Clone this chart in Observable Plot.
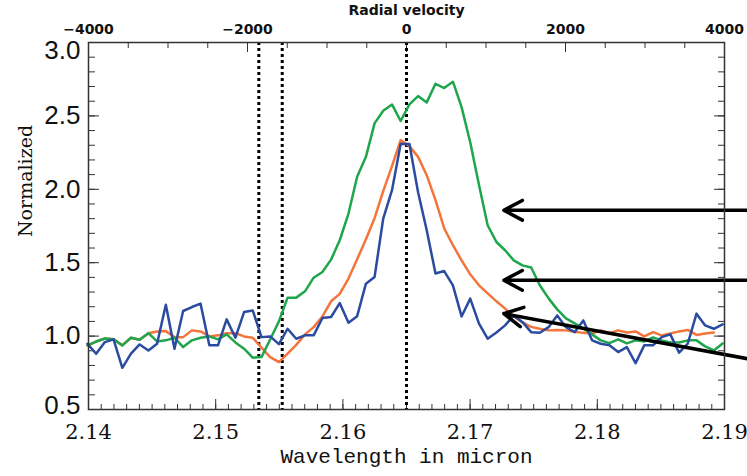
<!DOCTYPE html>
<html>
<head>
<meta charset="utf-8">
<script src="https://cdn.jsdelivr.net/npm/d3@7"></script>
<script src="https://cdn.jsdelivr.net/npm/@observablehq/plot@0.6"></script>
<style>
  html, body { margin: 0; padding: 0; background: #fff; }
</style>
</head>
<body>
<div id="chart"></div>
<script>
// Spectral sampling (micron)
const wavelength = [
  2.13992, 2.14060, 2.14129, 2.14197, 2.14266, 2.14334, 2.14402, 2.14471, 2.14539, 2.14608,
  2.14676, 2.14744, 2.14813, 2.14881, 2.14950, 2.15018, 2.15086, 2.15155, 2.15223, 2.15291,
  2.15360, 2.15428, 2.15497, 2.15565, 2.15633, 2.15702, 2.15770, 2.15839, 2.15907, 2.15975,
  2.16044, 2.16112, 2.16181, 2.16249, 2.16317, 2.16386, 2.16454, 2.16523, 2.16591, 2.16659,
  2.16728, 2.16796, 2.16865, 2.16933, 2.17001, 2.17070, 2.17138, 2.17207, 2.17275, 2.17343,
  2.17412, 2.17480, 2.17548, 2.17617, 2.17685, 2.17754, 2.17822, 2.17890, 2.17959, 2.18027,
  2.18096, 2.18164, 2.18232, 2.18301, 2.18369, 2.18438, 2.18506, 2.18574, 2.18643, 2.18711,
  2.18780, 2.18848, 2.18916, 2.18985
];

// Normalized flux of the three spectra
const fluxGreen = [
  0.937, 0.963, 0.984, 0.978, 0.937, 0.989, 0.975, 1.020, 0.964, 0.971,
  0.989, 0.925, 0.971, 0.989, 0.998, 0.978, 1.012, 0.957, 0.914, 0.853,
  0.857, 0.977, 1.100, 1.262, 1.262, 1.305, 1.398, 1.437, 1.521, 1.653,
  1.835, 2.085, 2.221, 2.449, 2.535, 2.578, 2.465, 2.578, 2.635, 2.592,
  2.719, 2.690, 2.733, 2.560, 2.321, 2.030, 1.755, 1.641, 1.585, 1.516,
  1.482, 1.467, 1.346, 1.257, 1.182, 1.121, 1.087, 1.052, 1.012, 0.971,
  0.952, 0.978, 0.950, 0.971, 0.964, 0.991, 0.971, 0.957, 0.957, 0.971,
  0.971, 0.930, 0.902, 0.950
];

const fluxOrange = [
  0.937, 0.963, 0.984, 0.978, 0.937, 0.989, 0.975, 1.020, 1.032, 1.034,
  0.993, 0.993, 1.039, 1.032, 0.998, 1.005, 1.020, 1.020, 0.998, 0.989,
  0.921, 0.857, 0.823, 0.880, 0.940, 1.012, 1.061, 1.134, 1.237, 1.288,
  1.392, 1.523, 1.660, 1.803, 1.987, 2.158, 2.335, 2.294, 2.221, 2.096,
  1.926, 1.735, 1.619, 1.516, 1.421, 1.346, 1.291, 1.237, 1.187, 1.134,
  1.093, 1.063, 1.050, 1.039, 1.042, 1.039, 1.029, 1.022, 1.018, 1.039,
  1.020, 1.039, 1.025, 1.032, 0.998, 1.027, 1.005, 1.018, 1.032, 1.042,
  1.008, 1.018, 1.025
];

const fluxBlue = [
  0.948, 0.880, 0.959, 0.978, 0.784, 0.880, 0.943, 0.902, 0.948, 1.214,
  0.914, 1.171, 1.198, 1.221, 0.937, 0.937, 1.114, 0.989, 1.164, 1.175,
  0.993, 0.998, 0.945, 1.050, 0.982, 1.005, 1.005, 1.123, 1.130, 1.225,
  1.091, 1.136, 1.357, 1.402, 1.801, 1.994, 2.308, 2.308, 1.980, 1.721,
  1.426, 1.443, 1.346, 1.134, 1.255, 1.085, 0.982, 1.025, 1.073, 1.141,
  1.095, 1.027, 1.023, 1.061, 1.141, 1.061, 1.027, 1.107, 0.971, 0.948,
  0.937, 0.891, 0.925, 0.816, 0.937, 0.937, 0.993, 1.012, 0.887, 0.948,
  1.153, 1.073, 1.050, 1.080
];

// Line positions marked with dotted verticals (micron)
const lineMarkers = [2.15339, 2.15523, 2.16500];

// Annotation arrows (wavelength, normalized flux)
const arrowTailX = [2.1918, 2.1918, 2.1918];
const arrowTailY = [1.857, 1.380, 0.846];
const arrowHeadX = [2.17265, 2.17265, 2.17265];
const arrowHeadY = [1.857, 1.380, 1.153];

// Axis ticks
const xMajorTicks = [2.14, 2.15, 2.16, 2.17, 2.18, 2.19];
const xMinorTicks = d3.range(0, 51).map(i => 2.14 + i * 0.001);
const yMajorTicks = [0.5, 1.0, 1.5, 2.0, 2.5, 3.0];
const yMinorTicks = d3.range(0, 26).map(i => 0.5 + i * 0.1);
const velocityMajor = [-4000, -2000, 0, 2000, 4000];
const velocityMinor = d3.range(-4000, 4001, 500);

// Radial velocity axis spans the same frame: -4000..4000 km/s across 2.14..2.19 micron
const velToWave = v => 2.165 + (v / 4000) * 0.025;
const waveToVel = w => Math.round((w - 2.165) / 0.025 * 4000);

const toRows = (ys) => ys.map((f, i) => ({w: wavelength[i], f}));
const arrows = arrowTailX.map((_, i) => ({x1: arrowTailX[i], y1: arrowTailY[i], x2: arrowHeadX[i], y2: arrowHeadY[i]}));

const minus = s => String(s).replace("-", "\u2212");

// Left tick labels: the end labels sit just inside the frame corners
const yLabelStyle = {anchor: "left", tickSize: 0, tickPadding: 8, tickFormat: d3.format(".1f"),
  fontSize: 26, fontFamily: "Liberation Sans", fill: "#111", label: null};

const chart = Plot.plot({
  width: 747,
  height: 476,
  marginLeft: 88,
  marginRight: 23,
  marginTop: 42,
  marginBottom: 67,
  style: {background: "#fff", overflow: "visible"},
  x: {domain: [2.14, 2.19], axis: null},
  y: {domain: [0.5, 3.0], axis: null},
  marks: [
    // minor & major ticks, pointing into the frame
    Plot.axisX(xMinorTicks, {anchor: "bottom", tickSize: -5, tickFormat: () => "", label: null, stroke: "#333"}),
    Plot.axisX(xMajorTicks, {anchor: "bottom", tickSize: -10, tickFormat: () => "", label: null, stroke: "#333"}),
    Plot.axisX(velocityMinor.map(velToWave), {anchor: "top", tickSize: -5, tickFormat: () => "", label: null, stroke: "#333"}),
    Plot.axisX(velocityMajor.map(velToWave), {anchor: "top", tickSize: -9, tickFormat: () => "", label: null, stroke: "#333"}),
    Plot.axisY(yMinorTicks, {anchor: "left", tickSize: -7, tickFormat: () => "", label: null, stroke: "#333"}),
    Plot.axisY(yMajorTicks, {anchor: "left", tickSize: -11, tickFormat: () => "", label: null, stroke: "#333"}),
    Plot.axisY(yMinorTicks, {anchor: "right", tickSize: -7, tickFormat: () => "", label: null, stroke: "#333"}),
    Plot.axisY(yMajorTicks, {anchor: "right", tickSize: -11, tickFormat: () => "", label: null, stroke: "#333"}),

    // tick labels
    Plot.axisX(xMajorTicks, {anchor: "bottom", tickSize: 0, tickPadding: 15, tickFormat: d3.format(".2f"),
      fontSize: 21, fontFamily: "DejaVu Serif", fill: "#111", label: null}),
    Plot.axisX(velocityMajor.map(velToWave), {anchor: "top", tickSize: 0, tickPadding: 9,
      tickFormat: w => minus(waveToVel(w)), fontSize: 14, fontWeight: "bold", fontFamily: "DejaVu Sans", fill: "#111", label: null}),
    Plot.axisY(yMajorTicks.slice(1, -1), yLabelStyle),
    Plot.axisY([3.0], {...yLabelStyle, dy: 8}),
    Plot.axisY([0.5], {...yLabelStyle, dy: -4}),

    // axis titles
    Plot.text(["Wavelength in micron"], {frameAnchor: "bottom", dy: 53, text: d => d,
      fontFamily: "Liberation Mono", fontSize: 21, fill: "#111"}),
    Plot.text(["Normalized"], {frameAnchor: "left", dx: -63, dy: 11, rotate: -90, text: d => d,
      fontFamily: "DejaVu Serif", fontSize: 19, fill: "#111"}),
    Plot.text(["Radial velocity"], {frameAnchor: "top", dy: -37, text: d => d,
      fontFamily: "DejaVu Sans", fontWeight: "bold", fontSize: 14, fill: "#111"}),

    // dotted line markers
    Plot.ruleX(lineMarkers, {stroke: "#000", strokeWidth: 3, strokeDasharray: "3,3"}),

    // spectra
    Plot.line(toRows(fluxOrange), {x: "w", y: "f", stroke: "#f4743b", strokeWidth: 2.5}),
    Plot.line(toRows(fluxGreen), {x: "w", y: "f", stroke: "#1fa64c", strokeWidth: 2.5}),
    Plot.line(toRows(fluxBlue), {x: "w", y: "f", stroke: "#2a4b9f", strokeWidth: 2.5}),

    // annotation arrows
    Plot.arrow(arrows, {x1: "x1", y1: "y1", x2: "x2", y2: "y2", stroke: "#000", strokeWidth: 3.5,
      headAngle: 56, headLength: 9}),

    Plot.frame({stroke: "#333", strokeWidth: 1.5})
  ]
});

document.getElementById("chart").appendChild(chart);
</script>
</body>
</html>
